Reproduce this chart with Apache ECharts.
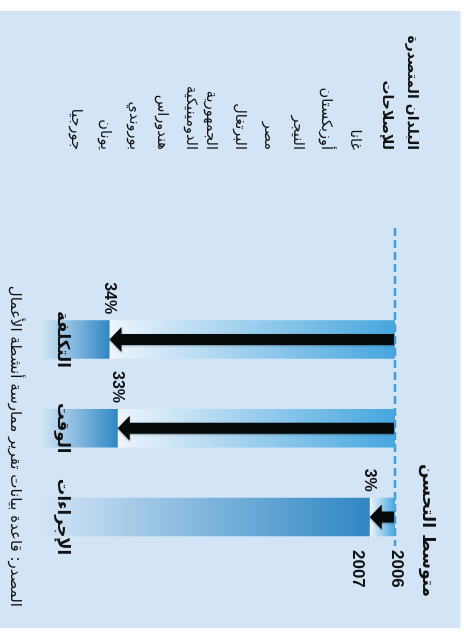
<!DOCTYPE html>
<html><head><meta charset="utf-8">
<script src="https://cdn.jsdelivr.net/npm/echarts@6/dist/echarts.min.js"></script>
<style>
html,body{margin:0;padding:0;background:#fff;overflow:hidden;width:464px;height:638px}
#wrap{position:absolute;left:0;top:0;width:638px;height:464px;transform-origin:0 0;transform:translate(464px,0) rotate(90deg);}
</style></head><body><div id="wrap"></div>
<script>
const categories = ['التكلفة', 'الوقت', 'الإجراءات'];
const improvement = [34, 33, 3];
const valueLabels = ['34%', '33%', '3%'];
const yearLabels = ['2006', '2007'];
const chartTitle = 'متوسط التحسن';
const listHeader = ['البلدان المتصدرة', 'للإصلاحات'];
const countries = ['غانا', 'أوزبكستان', 'النيجر', 'مصر', 'البرتغال', 'الجمهورية\nالدومينيكية', 'هندوراس', 'بوروندي', 'يونان', 'جورجيا'];
const sourceNote = 'المصدر: قاعدة بيانات تقرير ممارسة أنشطة الأعمال';
const axisMax = 42;

const AR = "'DejaVu Sans', sans-serif";
const LAT = "'Liberation Sans', Arial, sans-serif";
const BG = '#d2e4f5';

const chart = echarts.init(document.getElementById('wrap'), null, {renderer: 'canvas', width: 638, height: 464});

const option = {
  animation: false,
  backgroundColor: '#ffffff',
  title: {
    text: chartTitle, right: 36, top: 23,
    textStyle: {fontFamily: AR, fontSize: 17, fontWeight: 'bold', color: '#111'}
  },
  grid: {left: 295.1, right: 76.6, top: 69, bottom: 42.2},
  xAxis: {
    type: 'category', data: categories, z: 10,
    axisLine: {show: false}, axisTick: {show: false}, splitLine: {show: false},
    axisLabel: {interval: 0, margin: -20, verticalAlign: 'middle', fontFamily: AR, fontSize: 16.5, fontWeight: 'bold', color: '#111'}
  },
  yAxis: {type: 'value', inverse: true, min: 0, max: axisMax, show: false, splitLine: {show: false}},
  series: [
    {
      type: 'bar', stack: 'v', barWidth: 38.5, data: improvement, z: 2,
      itemStyle: {color: new echarts.graphic.LinearGradient(0, 0, 0, 1, [
        {offset: 0, color: '#45a6de'}, {offset: 1, color: '#eef5fc'}])},
      label: {
        show: true, position: [-6, '100%'], align: 'right', verticalAlign: 'middle',
        formatter: p => valueLabels[p.dataIndex],
        fontFamily: LAT, fontSize: 16, fontWeight: 'bold', color: '#111'
      }
    },
    {
      type: 'bar', stack: 'v', barWidth: 38.5, data: improvement.map(v => axisMax - v), z: 2,
      itemStyle: {color: new echarts.graphic.LinearGradient(0, 0, 0, 1, [
        {offset: 0, color: '#2f87c4'}, {offset: 1, color: BG}])}
    },
    {
      type: 'custom', z: 5,
      data: improvement.map((v, i) => [i, v]),
      encode: {x: 0, y: 1},
      renderItem: function (params, api) {
        const s = api.coord([api.value(0), 0]);
        const e = api.coord([api.value(0), api.value(1)]);
        const x = s[0], y0 = s[1] + 1, y1 = e[1];
        const hl = 12, hw = 12.5, sw = 5.5;
        const yb = y1 - hl;
        return {
          type: 'polygon',
          shape: {points: [[x - sw, y0], [x + sw, y0], [x + sw, yb], [x + hw, yb], [x, y1], [x - hw, yb], [x - sw, yb]]},
          style: {fill: '#050a0a', shadowBlur: 2, shadowColor: 'rgba(0,0,0,0.35)', shadowOffsetX: 1}
        };
      }
    }
  ]
};
chart.setOption(option);

const zeroY = chart.convertToPixel({yAxisIndex: 0}, 0);
const graphics = [];
graphics.push({type: 'rect', z: -10, shape: {x: 11, y: 3.5, width: 617, height: 461}, style: {fill: BG}});
graphics.push({type: 'line', z: 1, shape: {x1: 228, y1: zeroY, x2: 546, y2: zeroY},
  style: {stroke: '#3ea1dc', lineWidth: 2.6, lineDash: [8, 4]}});
yearLabels.forEach((t, i) => {
  graphics.push({type: 'text', z: 3, x: 550, y: zeroY - 2 + i * 39,
    style: {text: t, font: "bold 17px 'Liberation Sans', Arial, sans-serif", fill: '#111', align: 'left', verticalAlign: 'middle'}});
});
listHeader.forEach((t, i) => {
  graphics.push({type: 'text', z: 3, x: 150, y: 52 + i * 25,
    style: {text: t, font: "bold 14px 'DejaVu Sans', sans-serif", fill: '#111', align: 'right', verticalAlign: 'middle'}});
});
let ly = 109;
countries.forEach(c => {
  c.split('\n').forEach((line, j) => {
    if (j > 0) ly += 20;
    graphics.push({type: 'text', z: 3, x: 150, y: ly,
      style: {text: line, font: "14.5px 'DejaVu Sans', sans-serif", fill: '#111', align: 'right', verticalAlign: 'middle'}});
  });
  ly += 28.8;
});
graphics.push({type: 'text', z: 3, x: 607, y: 449,
  style: {text: sourceNote, font: "15px 'DejaVu Sans', sans-serif", fill: '#111', align: 'right', verticalAlign: 'middle'}});
chart.setOption({graphic: graphics});
</script>
</body></html>
